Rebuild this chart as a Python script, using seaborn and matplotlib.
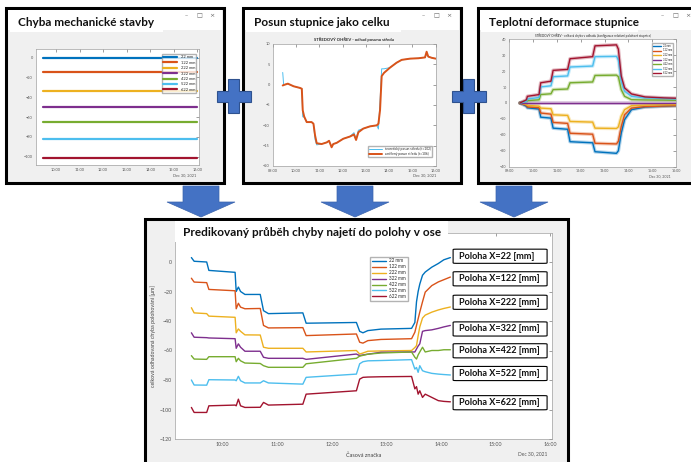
import numpy as np
import pandas as pd
import seaborn as sns
import matplotlib.pyplot as plt
import matplotlib.transforms as mtransforms
from matplotlib.patches import Rectangle, Polygon, FancyBboxPatch

sns.set_theme(style="white")
plt.rcParams['font.family'] = ['Lato', 'DejaVu Sans']

# ---------------- data ----------------
positions = ['22 mm', '122 mm', '222 mm', '322 mm', '422 mm', '522 mm', '622 mm']
matlab_colors = ['#0072BD', '#D95319', '#EDB120', '#7E2F8E', '#77AC30', '#4DBEEE', '#A2142F']

# panel 1 - constant mechanical error per position [um]
mech_time = [9.43, 16.0]
mech_error = [0, -14, -34, -50, -65, -82, -101]

# panel 2 - shift of the whole scale [um]
shift_time = [9.43, 9.47, 9.65, 9.90, 10.17, 10.25, 10.29, 10.35, 10.46, 10.67, 10.75, 10.82, 10.89,
              11.10, 11.32, 11.42, 11.53, 11.60, 11.75, 12.03, 12.32, 12.49, 12.58, 12.68, 12.89,
              13.18, 13.47, 13.54, 13.61, 13.68, 13.78, 14.04, 14.32, 14.54, 14.90, 15.26, 15.54,
              15.61, 15.68, 15.83, 16.00]
shift_measured = [-0.2, -0.1, 0.25, -0.4, -0.8, -1.0, -6.3, -7.8, -9.2, -9.2, -9.6, -12.5, -14.4,
                  -14.6, -14.2, -13.8, -15.4, -14.6, -14.3, -13.3, -12.75, -12.25, -13.6, -11.7, -10.8,
                  -10.25, -10.0, -9.6, -6.25, 2.1, 2.9, 4.2, 5.4, 6.1, 6.4, 6.5, 6.7,
                  8.1, 6.9, 6.6, 6.4]
shift_theory = [3.0, 0.0, 0.2, -0.4, -0.8, -1.0, -7.9, -8.0, -9.2, -9.2, -9.6, -13.5, -14.8,
                -14.6, -14.2, -13.8, -15.2, -14.6, -14.3, -13.3, -12.75, -11.8, -13.4, -11.2, -10.8,
                -10.25, -10.0, -10.9, -4.0, 3.9, 3.9, 4.2, 5.4, 6.1, 6.4, 6.5, 6.7,
                7.5, 6.9, 6.6, 6.4]

# panel 3 - thermal deformation of the scale [um]
thermal_time = [9.45, 9.72, 9.76, 10.25, 10.32, 10.75, 10.84, 11.45, 11.55, 12.5, 12.6, 13.5, 13.58,
                13.7, 13.84, 14.13, 14.7, 15.5, 16.0]
thermal_22 = [0, -2.1, -3, -3.8, -8.9, -9.5, -15.8, -16.5, -24.3, -25, -30.6, -31.6, -30, -19, -10.5, -4.2, -2.5, -2.0, -1.7]
thermal_122 = [0, -1.5, -2.5, -3, -6.3, -7, -12.2, -12.8, -19, -19.6, -25.3, -25.7, -24, -14.8, -7.4, -3.2, -2.3, -1.9, -1.7]
thermal_222 = [0, -1, -1.5, -2, -3.2, -3.6, -7.4, -7.8, -11.6, -12, -15.8, -16, -15, -8.4, -4.2, -1.7, -1.3, -1.1, -1.0]
thermal_322 = [0, 0, 0, 0, 0, 0, 0, 0, 0, 0, 0, 0, 0, 0, 0, 0, 0, 0, 0]
thermal_422 = [0, 1, 1.5, 2, 5.3, 5.8, 8.4, 8.8, 12.7, 13.2, 17.3, 17.5, 16.5, 8.4, 4.2, 2.1, 1.9, 1.8, 1.7]
thermal_522 = [0, 1, 2.5, 3.5, 10.1, 10.8, 16.5, 17, 22.6, 23.2, 29.1, 29.3, 27, 13.7, 7.4, 4.2, 3.2, 2.8, 2.5]
thermal_622 = [0, 2, 4.2, 5.3, 12.7, 13.7, 20.5, 21.1, 27.8, 29.1, 35.9, 36.5, 33.8, 16.9, 9.5, 5.7, 3.8, 3.2, 3.0]

# bottom - predicted positioning error [um]
pred_time = [9.43, 9.48, 9.71, 9.75, 10.23, 10.25, 10.29, 10.33, 10.41, 10.69, 10.75, 10.84, 11.47, 11.53,
             12.45, 12.51, 12.57, 12.66, 12.90, 13.46, 13.52, 13.55, 13.58, 13.61, 13.66, 13.71, 13.83,
             13.95, 14.05, 14.17]
pred_22 = [3, 0.5, 0, -5.7, -7, -20, -17, -20, -22, -22, -33, -35, -34.5, -41.5,
           -41, -47, -48, -46.5, -45.5, -45, -41, -27, -20, -15, -9, -6.8, -3.5, -1, 1.5, 3]
pred_122 = [-11, -13.6, -14, -18.6, -19.5, -31.7, -28, -30.6, -31.7, -31.5, -43, -44.7, -44.5, -49.9,
            -48.8, -54.4, -55, -53.3, -52.5, -52, -47.6, -43, -38.5, -34, -27, -20.4, -16, -13.5, -12, -10.2]
pred_222 = [-31, -34.5, -35, -36.7, -37.5, -48, -45.4, -47, -49.4, -49.5, -57.8, -58.5, -58.5, -61,
            -60, -62.4, -61.7, -60.5, -60.3, -60, -58, -56.7, -50, -44, -38, -36, -34, -32.5, -31.5, -30.5]
pred_322 = [-48, -51, -51.3, -51.5, -52, -58.5, -55.5, -57.8, -60.5, -60.5, -64.6, -65.3, -65.3, -66,
            -62.4, -63.5, -63, -62.5, -61.2, -61, -61, -59, -57, -55.5, -47, -46.5, -46, -45, -44, -43]
pred_422 = [-63.5, -65.8, -66, -64.2, -64.2, -67.6, -65.3, -67, -68.5, -68.8, -70.3, -71.4, -71.4, -69,
            -65.3, -63.8, -63.3, -62.5, -61.7, -61, -64.6, -65.8, -63, -61, -57.8, -61, -60, -60, -59.5, -59.5]
pred_522 = [-80, -83.4, -83.5, -79.8, -80, -80.5, -77.5, -80.5, -82, -82, -80.5, -82, -82.8, -78.2,
            -76, -69, -67.6, -67, -66.8, -66.2, -72.6, -71.5, -74.8, -70.3, -73.7, -74.4, -75.5, -76, -76.3, -76.6]
pred_622 = [-98.6, -102, -102, -97.5, -97, -97.5, -93, -97.5, -98.6, -98.5, -95.2, -97, -96.4, -89.6,
            -87.3, -79.4, -78.2, -78, -77.8, -77.6, -86, -84.5, -89.6, -87.3, -91.8, -89.6, -91.8, -94, -94.5, -94.8]
label_values = [3.9, -11.4, -27.3, -45.4, -60.2, -75.6, -95.4]
label_texts = ['Poloha X=22 [mm]', 'Poloha X=122 [mm]', 'Poloha X=222 [mm]', 'Poloha X=322 [mm]',
               'Poloha X=422 [mm]', 'Poloha X=522 [mm]', 'Poloha X=622 [mm]']

palette = dict(zip(positions, matlab_colors))


def long_df(time, series_list):
    return pd.DataFrame({
        't': np.tile(time, len(series_list)),
        'v': np.concatenate(series_list),
        'poloha': np.repeat(positions, len(time)),
    })


mech_df = long_df(mech_time, [[v, v] for v in mech_error])
thermal_df = long_df(thermal_time, [thermal_22, thermal_122, thermal_222, thermal_322,
                                    thermal_422, thermal_522, thermal_622])
pred_df = long_df(pred_time, [pred_22, pred_122, pred_222, pred_322, pred_422, pred_522, pred_622])

# ---------------- layout helpers (pixel coords, origin top-left) ----------------
W, H = 691, 462
fig = plt.figure(figsize=(W / 100, H / 100), dpi=100)
fig.patch.set_facecolor('white')
px = mtransforms.Affine2D().scale(1 / W, -1 / H).translate(0, 1) + fig.transFigure
BLUE = '#4472C4'


def rect(l, t, r, b):
    return [l / W, 1 - b / H, (r - l) / W, (b - t) / H]


def window(l, t, r, b, bar=True):
    fig.add_artist(Rectangle((l + 2, t + 2), r - l, b - t, transform=px, facecolor='#9a9a9a',
                             edgecolor='none', zorder=-4))
    fig.add_artist(Rectangle((l, t), r - l, b - t, transform=px, facecolor='#f0f0f0',
                             edgecolor='black', linewidth=2.2, zorder=-3))
    if bar:
        fig.add_artist(Rectangle((l + 2, t + 2), r - l - 4, 20, transform=px, facecolor='white',
                                 edgecolor='none', zorder=-2))
        for k, ch in enumerate(['–', '□', '×']):
            fig.text(r - 38 + k * 13, t + 8, ch, transform=px, fontsize=4.5, color='#666666',
                     ha='center', va='center', family='DejaVu Sans')


def title_box(l, t, r, b, text, fs):
    fig.add_artist(Rectangle((l, t), r - l, b - t, transform=px, facecolor='white',
                             edgecolor='none', zorder=3))
    fig.text(l + 8, (t + b) / 2 + 1, text, transform=px, fontsize=fs, fontweight='bold',
             color='#111111', ha='left', va='center', zorder=4)


def down_arrow(cx):
    pts = [(cx - 18, 186), (cx + 18, 186), (cx + 18, 202), (cx + 34, 202), (cx, 217),
           (cx - 34, 202), (cx - 18, 202)]
    fig.add_artist(Polygon(pts, closed=True, transform=px, facecolor=BLUE, edgecolor='#3b64ad',
                           linewidth=0.5, zorder=5))


def plus(cx, cy):
    pts = [(cx - 5.5, cy - 17), (cx + 5.5, cy - 17), (cx + 5.5, cy - 5.5), (cx + 17, cy - 5.5),
           (cx + 17, cy + 5.5), (cx + 5.5, cy + 5.5), (cx + 5.5, cy + 17), (cx - 5.5, cy + 17),
           (cx - 5.5, cy + 5.5), (cx - 17, cy + 5.5), (cx - 17, cy - 5.5), (cx - 5.5, cy - 5.5)]
    fig.add_artist(Polygon(pts, closed=True, transform=px, facecolor=BLUE, edgecolor='#2f528f',
                           linewidth=0.8, zorder=6))


def matlab_axes(ax, xlim, ylim, xticks, yticks, fs, labelfmt='{:d}:00'):
    ax.set_facecolor('white')
    ax.set_xlim(*xlim)
    ax.set_ylim(*ylim)
    ax.set_xticks(xticks)
    ax.set_xticklabels([labelfmt.format(int(h)) for h in xticks])
    ax.set_yticks(yticks)
    ax.tick_params(direction='in', length=2, width=0.4, top=True, right=True, labelsize=fs,
                   colors='#555555', pad=2)
    for s in ax.spines.values():
        s.set_color('#a0a0a0')
        s.set_linewidth(0.5)
    ax.set_xlabel('')
    ax.set_ylabel('')


# ---------------- windows ----------------
window(6, 8, 224, 183)
window(243, 8, 461, 183)
window(478, 8, 700, 183)
window(145, 219, 568, 470, bar=False)

# ---------------- panel 1 ----------------
ax1 = fig.add_axes(rect(35.7, 49, 199.3, 165))
sns.lineplot(data=mech_df, x='t', y='v', hue='poloha', hue_order=positions, palette=palette,
             estimator=None, linewidth=1.6, ax=ax1)
matlab_axes(ax1, (9.14, 16.08), (-108.5, 8.8), range(10, 17), range(-100, 1, 20), 2.8,
            '{:02d}:00')
ax1.legend(fontsize=2.9, loc='upper right', bbox_to_anchor=(0.995, 0.975), handlelength=3.5,
           labelspacing=0.35, borderpad=0.35, frameon=True, edgecolor='#a0a0a0', fancybox=False)
fig.text(185, 176, 'Dec 30, 2021', transform=px, fontsize=2.8, color='#555555', ha='center')

# ---------------- panel 2 ----------------
ax2 = fig.add_axes(rect(272.7, 44, 435.7, 166))
sns.lineplot(x=shift_time, y=shift_theory, color='#4DBEEE', linewidth=0.7, ax=ax2,
             label='teoretický posun středu (t=102)')
sns.lineplot(x=shift_time, y=shift_measured, color='#D95319', linewidth=1.4, ax=ax2,
             label='změřený posun středu (t=106)')
matlab_axes(ax2, (9, 16), (-20, 10), range(9, 17), range(-20, 11, 5), 2.8, '{:02d}:00')
ax2.legend(fontsize=2.3, loc='lower right', bbox_to_anchor=(0.985, 0.06), handlelength=4,
           labelspacing=0.25, borderpad=0.35, frameon=True, edgecolor='#a0a0a0', fancybox=False)
ax2.set_title('STŘEDOVÝ OHŘEV - odhad posunu středu', fontsize=3, fontweight='bold', pad=2)
fig.text(425, 176, 'Dec 30, 2021', transform=px, fontsize=2.8, color='#555555', ha='center')

# ---------------- panel 3 ----------------
ax3 = fig.add_axes(rect(509.3, 39.3, 676, 166.7))
sns.lineplot(data=thermal_df, x='t', y='v', hue='poloha', hue_order=positions, palette=palette,
             estimator=None, linewidth=2.6, alpha=0.3, legend=False, ax=ax3)
sns.lineplot(data=thermal_df, x='t', y='v', hue='poloha', hue_order=positions, palette=palette,
             estimator=None, linewidth=1.0, ax=ax3)
matlab_axes(ax3, (9, 16), (-40, 40), range(9, 17), range(-40, 41, 10), 2.6, '{:02d}:00')
ax3.legend(fontsize=1.9, loc='upper right', bbox_to_anchor=(0.99, 0.98), handlelength=3,
           labelspacing=0.2, borderpad=0.3, frameon=True, edgecolor='#a0a0a0', fancybox=False)
ax3.set_title('STŘEDOVÝ OHŘEV - celková chyba v odhadu (konfigurace relativní polohové stupnice)',
              fontsize=2.2, pad=2)
fig.text(660, 177, 'Dec 30, 2021', transform=px, fontsize=2.6, color='#555555', ha='center')

# ---------------- bottom panel ----------------
ax4 = fig.add_axes(rect(175, 232.5, 552, 439))
sns.lineplot(data=pred_df, x='t', y='v', hue='poloha', hue_order=positions, palette=palette,
             estimator=None, linewidth=1.0, ax=ax4)
matlab_axes(ax4, (9.13, 16.03), (-120, 20), range(10, 17), range(-120, 1, 20), 3.8)
ax4.legend(fontsize=3.3, loc='upper left', bbox_to_anchor=(0.512, 0.893), handlelength=3,
           labelspacing=0.2, borderpad=0.35, frameon=True, edgecolor='#a0a0a0', fancybox=False)
ax4.set_ylabel('celková odhadovaná chyba polohování [μm]', fontsize=3.8, color='#444444', labelpad=3)
ax4.set_xlabel('Časová značka', fontsize=4, color='#444444', labelpad=4)
fig.text(533, 455, 'Dec 30, 2021', transform=px, fontsize=3.5, color='#555555', ha='center')

for val, txt in zip(label_values, label_texts):
    ax4.add_patch(FancyBboxPatch((14.22, val - 4.8), 1.72, 9.6,
                                 boxstyle='round,pad=0,rounding_size=0.06',
                                 mutation_aspect=4, facecolor='white', edgecolor='black',
                                 linewidth=0.8, zorder=5, clip_on=False))
    ax4.text(14.32, val, txt, fontsize=6.6, fontweight='bold', color='#111111',
             ha='left', va='center', zorder=6)

# ---------------- titles, arrows, plus signs ----------------
title_box(10, 12, 163, 32, 'Chyba mechanické stavby', 8.5)
title_box(246, 12, 401, 32, 'Posun stupnice jako celku', 8.5)
title_box(481, 12, 638, 32, 'Teplotní deformace stupnice', 8.5)
title_box(175, 221, 448, 242, 'Predikovaný průběh chyby najetí do polohy v ose', 8.5)

for cx in (201, 355, 514):
    down_arrow(cx)
plus(234, 96)
plus(469, 96)

fig.savefig('out.png', dpi=100, facecolor='white')
